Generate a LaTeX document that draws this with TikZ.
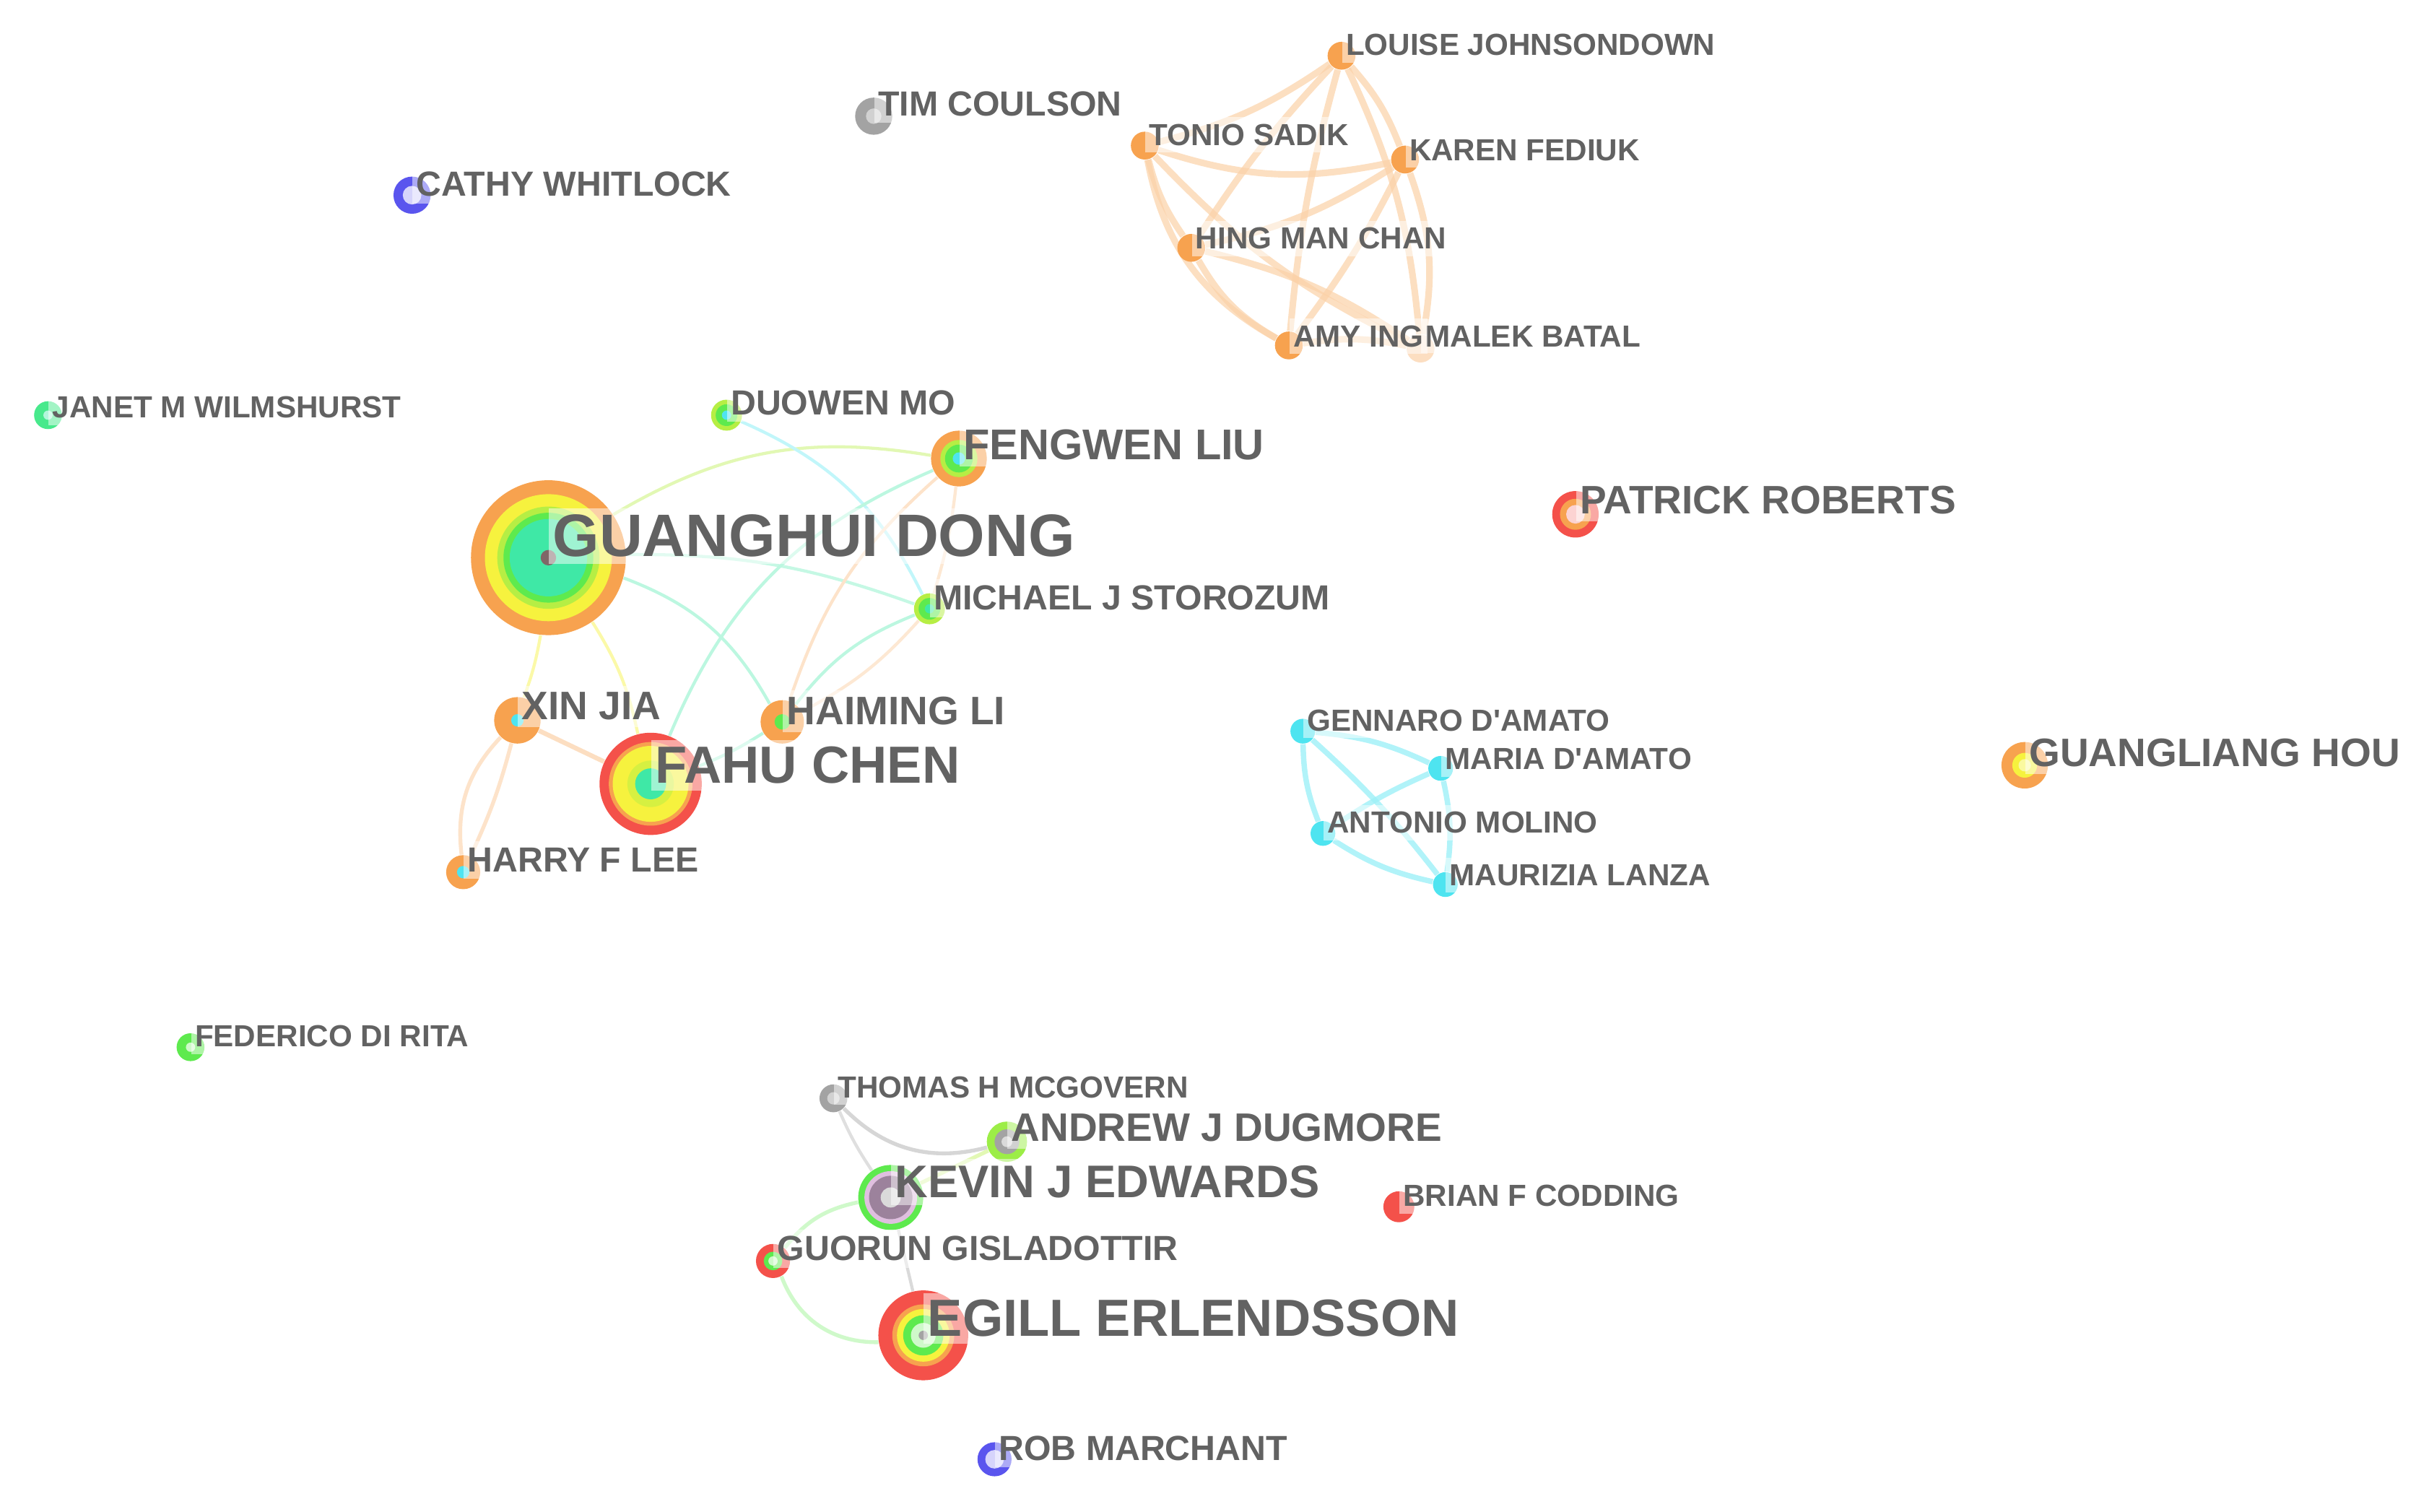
\documentclass[tikz,border=0pt]{standalone}
\usepackage{fontspec}
\setmainfont{Liberation Sans}
\usetikzlibrary{backgrounds}
\definecolor{csorange}{HTML}{F7A24F}
\definecolor{csyellow}{HTML}{F6F23E}
\definecolor{cslime}{HTML}{B6EE44}
\definecolor{csgreen}{HTML}{5EEA4E}
\definecolor{csmint}{HTML}{3FE8A6}
\definecolor{cscyan}{HTML}{4EE4F0}
\definecolor{csred}{HTML}{F4514A}
\definecolor{csblue}{HTML}{5A55EE}
\definecolor{csgray}{HTML}{A3A3A3}
\definecolor{cstext}{HTML}{626262}

\begin{document}
\begin{tikzpicture}[x=0.02cm, y=-0.02cm,
  ring/.style={circle, inner sep=0pt, draw=none},
  lbl/.style={anchor=west, inner xsep=0.05cm, inner ysep=0.25em,
    fill=white, fill opacity=0.5, text opacity=1, text=cstext},
  fxl/.style={font=\fontsize{22}{24}\selectfont\bfseries},
  fl/.style={font=\fontsize{19.2}{21}\selectfont\bfseries},
  fk/.style={font=\fontsize{16.8}{18}\selectfont\bfseries},
  ff/.style={font=\fontsize{15.8}{17}\selectfont\bfseries},
  fm/.style={font=\fontsize{14.6}{16}\selectfont\bfseries},
  fs/.style={font=\fontsize{12.8}{14}\selectfont\bfseries},
  fxs/.style={font=\fontsize{11.2}{12}\selectfont\bfseries},
  link/.style={line width=0.04cm},
  heavylink/.style={line width=0.085cm, csorange!50, opacity=0.7},
  cyanlink/.style={line width=0.07cm, cscyan!55, opacity=0.8}]

\useasboundingbox (0,0) rectangle (1568,976);

\node[ring, fill=csorange, minimum size=2cm] (dong) at (354,360) {};
\fill[csyellow] (dong.center) circle (0.82cm);
\fill[cslime] (dong.center) circle (0.66cm);
\fill[csgreen] (dong.center) circle (0.58cm);
\fill[csmint] (dong.center) circle (0.5cm);
\fill[csgray!70!black!90!red] (dong.center) circle (0.1cm);

\node[ring, fill=csred, minimum size=1.32cm] (fahu) at (420,506) {};
\fill[csorange] (fahu.center) circle (0.54cm);
\fill[csyellow] (fahu.center) circle (0.49cm);
\fill[cslime!50!csyellow] (fahu.center) circle (0.3cm);
\fill[csmint] (fahu.center) circle (0.2cm);

\node[ring, fill=csorange, minimum size=0.72cm] (fengwen) at (619,296) {};
\fill[cslime] (fengwen.center) circle (0.24cm);
\fill[csgreen] (fengwen.center) circle (0.18cm);
\fill[cscyan] (fengwen.center) circle (0.08cm);

\node[ring, fill=cslime, minimum size=0.4cm] (duowen) at (469,268) {};
\fill[csgreen] (duowen.center) circle (0.14cm);
\fill[cscyan] (duowen.center) circle (0.06cm);

\node[ring, fill=cslime, minimum size=0.4cm] (michael) at (600,393) {};
\fill[csgreen] (michael.center) circle (0.14cm);
\fill[csmint] (michael.center) circle (0.06cm);

\node[ring, fill=csorange, minimum size=0.6cm] (xinjia) at (334,465) {};
\fill[cscyan] (xinjia.center) circle (0.08cm);

\node[ring, fill=csorange, minimum size=0.56cm] (haiming) at (505,466) {};
\fill[csgreen] (haiming.center) circle (0.1cm);

\node[ring, fill=csorange, minimum size=0.44cm] (harry) at (299,563) {};
\fill[cscyan] (harry.center) circle (0.08cm);

\node[ring, fill=csmint!70!csgreen, minimum size=0.36cm] (janet) at (31,268) {};
\fill[white!60!csmint] (janet.center) circle (0.06cm);

\node[ring, fill=csblue, minimum size=0.48cm] (cathy) at (266,126) {};
\fill[csblue!25] (cathy.center) circle (0.12cm);

\node[ring, fill=csgray, minimum size=0.48cm] (tim) at (564,75) {};
\fill[csgray!50] (tim.center) circle (0.1cm);

\node[ring, fill=csorange!35, minimum size=0.36cm] (malek) at (917,225) {};
\node[ring, fill=csorange, minimum size=0.36cm] (louise) at (866,36) {};
\node[ring, fill=csorange, minimum size=0.36cm] (tonio) at (739,94) {};
\node[ring, fill=csorange, minimum size=0.36cm] (karen) at (907,103) {};
\node[ring, fill=csorange, minimum size=0.36cm] (hing) at (769,160) {};
\node[ring, fill=csorange, minimum size=0.36cm] (amy) at (832,223) {};

\node[ring, fill=csred, minimum size=0.6cm] (patrick) at (1017,332) {};
\fill[csorange] (patrick.center) circle (0.2cm);
\fill[csred!25] (patrick.center) circle (0.12cm);

\node[ring, fill=cscyan, minimum size=0.32cm] (gennaro) at (841,472) {};
\node[ring, fill=cscyan, minimum size=0.32cm] (maria) at (930,496) {};
\node[ring, fill=cscyan, minimum size=0.32cm] (antonio) at (854,538) {};
\node[ring, fill=cscyan, minimum size=0.32cm] (maurizia) at (933,571) {};

\node[ring, fill=csorange, minimum size=0.6cm] (guangliang) at (1307,494) {};
\fill[csyellow] (guangliang.center) circle (0.16cm);
\fill[white!50!csyellow] (guangliang.center) circle (0.08cm);

\node[ring, fill=csgreen, minimum size=0.36cm] (federico) at (123,676) {};
\fill[csgreen!30] (federico.center) circle (0.06cm);

\node[ring, fill=csgray, minimum size=0.36cm] (thomas) at (538,709) {};
\fill[csgray!50] (thomas.center) circle (0.08cm);

\node[ring, fill=cslime!70!csgreen, minimum size=0.52cm] (andrew) at (650,737) {};
\fill[csgray] (andrew.center) circle (0.16cm);
\fill[csgray!40] (andrew.center) circle (0.07cm);

\node[ring, fill=csgreen, minimum size=0.84cm] (kevin) at (575,773) {};
\fill[white!75!violet] (kevin.center) circle (0.34cm);
\fill[csgray!80!violet] (kevin.center) circle (0.28cm);
\fill[csgray!40] (kevin.center) circle (0.13cm);

\node[ring, fill=csred, minimum size=0.4cm] (brian) at (903,779) {};

\node[ring, fill=csred, minimum size=0.44cm] (guorun) at (499,814) {};
\fill[csgreen] (guorun.center) circle (0.12cm);
\fill[csgreen!30] (guorun.center) circle (0.06cm);

\node[ring, fill=csred, minimum size=1.16cm] (egill) at (596,862) {};
\fill[csorange] (egill.center) circle (0.4cm);
\fill[csyellow] (egill.center) circle (0.34cm);
\fill[csgreen] (egill.center) circle (0.26cm);
\fill[csgreen!30] (egill.center) circle (0.16cm);
\fill[csgray] (egill.center) circle (0.06cm);

\node[ring, fill=csblue, minimum size=0.44cm] (rob) at (642,942) {};
\fill[csblue!25] (rob.center) circle (0.12cm);

\node[lbl, fxl] (dong-lbl) at (354,346) {GUANGHUI DONG};
\node[lbl, fl] (fahu-lbl) at (420,494) {FAHU CHEN};
\node[lbl, ff] (fengwen-lbl) at (619,287) {FENGWEN LIU};
\node[lbl, fs] (duowen-lbl) at (469,260) {DUOWEN MO};
\node[lbl, fs] (michael-lbl) at (600,386) {MICHAEL J STOROZUM};
\node[lbl, fm] (xinjia-lbl) at (334,456) {XIN JIA};
\node[lbl, fm] (haiming-lbl) at (505,459) {HAIMING LI};
\node[lbl, fs] (harry-lbl) at (299,555) {HARRY F LEE};
\node[lbl, fxs] (janet-lbl) at (31,263) {JANET M WILMSHURST};
\node[lbl, fs] (cathy-lbl) at (266,119) {CATHY WHITLOCK};
\node[lbl, fs] (tim-lbl) at (564,67) {TIM COULSON};
\node[lbl, fxs] (malek-lbl) at (917,217) {MALEK BATAL};
\node[lbl, fxs] (louise-lbl) at (866,29) {LOUISE JOHNSONDOWN};
\node[lbl, fxs] (tonio-lbl) at (739,87) {TONIO SADIK};
\node[lbl, fxs] (karen-lbl) at (907,97) {KAREN FEDIUK};
\node[lbl, fxs] (hing-lbl) at (769,154) {HING MAN CHAN};
\node[lbl, fxs] (amy-lbl) at (832,217) {AMY ING};
\node[lbl, fm] (patrick-lbl) at (1017,323) {PATRICK ROBERTS};
\node[lbl, fxs] (gennaro-lbl) at (841,465) {GENNARO D\textquotesingle AMATO};
\node[lbl, fxs] (maria-lbl) at (930,490) {MARIA D\textquotesingle AMATO};
\node[lbl, fxs] (antonio-lbl) at (854,531) {ANTONIO MOLINO};
\node[lbl, fxs] (maurizia-lbl) at (933,565) {MAURIZIA LANZA};
\node[lbl, fm] (guangliang-lbl) at (1307,486) {GUANGLIANG HOU};
\node[lbl, fxs] (federico-lbl) at (123,669) {FEDERICO DI RITA};
\node[lbl, fxs] (thomas-lbl) at (538,702) {THOMAS H MCGOVERN};
\node[lbl, fm] (andrew-lbl) at (650,728) {ANDREW J DUGMORE};
\node[lbl, fk] (kevin-lbl) at (575,763) {KEVIN J EDWARDS};
\node[lbl, fxs] (brian-lbl) at (903,772) {BRIAN F CODDING};
\node[lbl, fs] (guorun-lbl) at (499,806) {GUORUN GISLADOTTIR};
\node[lbl, fl] (egill-lbl) at (596,851) {EGILL ERLENDSSON};
\node[lbl, fs] (rob-lbl) at (642,935) {ROB MARCHANT};

\begin{scope}[on background layer]
\draw[link, cslime!40] (dong) to[bend left=20] (fengwen);
\draw[link, cscyan!35] (duowen) to[bend left=20] (michael);
\draw[link, csmint!30] (dong) to[bend left=10] (michael);
\draw[link, csmint!35] (dong) to[bend left=20] (haiming);
\draw[link, csmint!35] (fengwen) to[bend right=22] (fahu);
\draw[link, csorange!30] (fengwen) to[bend right=15] (haiming);
\draw[link, csorange!25] (fengwen) to[bend left=5] (michael);
\draw[link, csmint!35] (michael) to[bend right=15] (haiming);
\draw[link, csorange!25] (michael) to[bend left=10] (haiming);
\draw[link, csmint!35] (haiming) to[bend left=5] (fahu);
\draw[link, csyellow!45] (dong) to[bend left=5] (xinjia);
\draw[link, csyellow!45] (dong) to[bend left=10] (fahu);
\draw[line width=0.06cm, csorange!35] (xinjia) -- (fahu);
\draw[line width=0.05cm, csorange!30] (harry) to[bend left=25] (xinjia);
\draw[line width=0.05cm, csorange!30] (harry) to[bend right=5] (xinjia);

\draw[heavylink] (louise) to[bend left=10] (tonio);
\draw[heavylink] (louise) to[bend left=10] (karen);
\draw[heavylink] (louise) to[bend right=5] (hing);
\draw[heavylink] (louise) to[bend right=5] (amy);
\draw[heavylink] (louise) to[bend left=10] (malek);
\draw[heavylink] (tonio) to[bend right=15] (karen);
\draw[heavylink] (tonio) to[bend right=10] (hing);
\draw[heavylink] (tonio) to[bend right=25] (amy);
\draw[heavylink] (tonio) to[bend right=10] (malek);
\draw[heavylink] (karen) to[bend left=10] (hing);
\draw[heavylink] (karen) to[bend left=5] (amy);
\draw[heavylink] (karen) to[bend left=15] (malek);
\draw[heavylink] (hing) to[bend right=15] (amy);
\draw[heavylink] (hing) to[bend left=10] (malek);
\draw[heavylink] (amy) to[bend left=10] (malek);

\draw[cyanlink] (gennaro) to[bend left=10] (maria);
\draw[cyanlink] (gennaro) to[bend right=10] (antonio);
\draw[cyanlink] (gennaro) to[bend left=5] (maurizia);
\draw[cyanlink] (maria) to[bend right=5] (antonio);
\draw[cyanlink] (maria) to[bend left=10] (maurizia);
\draw[cyanlink] (antonio) to[bend right=10] (maurizia);

\draw[line width=0.05cm, csgray!45] (thomas) to[bend right=30] (andrew);
\draw[link, csgray!35] (thomas) to[bend right=5] (kevin);
\draw[link, csgray!40] (kevin) -- (egill);
\draw[line width=0.05cm, cslime!40] (andrew) -- (kevin);
\draw[line width=0.05cm, csgreen!30] (kevin) to[bend right=20] (guorun);
\draw[line width=0.05cm, csgreen!30] (guorun) to[bend right=35] (egill);
\end{scope}
\end{tikzpicture}
\end{document}
